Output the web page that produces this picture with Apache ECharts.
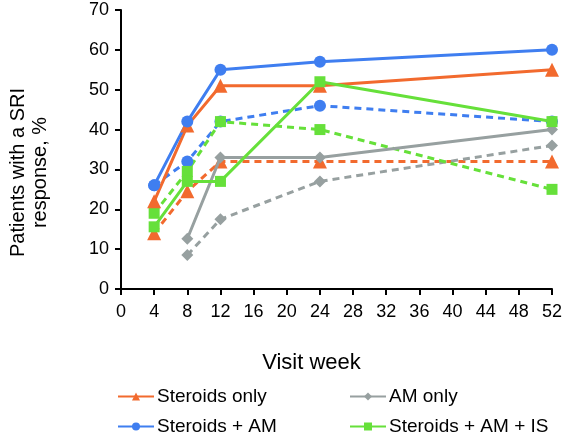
<!DOCTYPE html>
<html>
<head>
<meta charset="utf-8">
<script src="https://cdn.jsdelivr.net/npm/echarts@6/dist/echarts.min.js"></script>
<style>html,body{margin:0;padding:0;background:#fff}#c{width:566px;height:436px}</style>
</head>
<body>
<div id="c"></div>
<script>
var weeks = [4, 8, 12, 24, 52];
var weeksAM = [8, 12, 24, 52];
var steroidsOnly = [22, 41, 51, 51, 55];
var steroidsOnlyDash = [14, 24.5, 32, 32, 32];
var amOnly = [12.6, 33, 33, 40];
var amOnlyDash = [8.5, 17.5, 27, 36];
var steroidsAM = [26, 42, 55, 57, 60];
var steroidsAMDash = [26, 32, 42, 46, 42];
var steroidsAMIS = [15.6, 27, 27, 52, 42];
var steroidsAMISDash = [19, 29.5, 42, 40, 25];
var xTicks = [0, 4, 8, 12, 16, 20, 24, 28, 32, 36, 40, 44, 48, 52];

var ORANGE = '#f26a2e', GRAY = '#97a0a0', BLUE = '#3f7ef0', GREEN = '#66e03a';
var FONT = 'Liberation Sans, Arial, sans-serif';

function pairs(xs, ys) { return xs.map(function (x, i) { return [x, ys[i]]; }); }
function mk(name, xs, ys, color, symbol, size, dashed) {
  return {
    name: name, type: 'line', data: pairs(xs, ys),
    symbol: symbol, symbolSize: size,
    lineStyle: { color: color, width: 3, type: dashed ? [7, 5] : 'solid' },
    itemStyle: { color: color },
    z: dashed ? 2 : 3
  };
}
function lg(name, left, top) {
  return {
    data: [name], left: left, top: top, itemWidth: 36, itemHeight: 10, itemGap: 5,
    textStyle: { fontFamily: FONT, fontSize: 19, color: '#000', padding: [0, 0, 0, -2] }, padding: 0
  };
}

var chart = echarts.init(document.getElementById('c'));
chart.setOption({
  animation: false,
  backgroundColor: '#fff',
  grid: { left: 121, right: 14, top: 10, bottom: 147, outerBoundsMode: 'none', containLabel: false },
  legend: [
    lg('Steroids only', 117, 387),
    lg('AM only', 349, 387),
    lg('Steroids + AM', 117, 417),
    lg('Steroids + AM + IS', 349, 417)
  ],
  xAxis: {
    type: 'value', min: 0, max: 52, interval: 4,
    name: 'Visit week', nameLocation: 'middle', nameGap: 63,
    nameTextStyle: { fontFamily: FONT, fontSize: 22, color: '#000', padding: [0, 50, 0, 0] },
    axisLine: { lineStyle: { color: '#000', width: 2 } },
    axisTick: { show: true, inside: false, length: 6, lineStyle: { color: '#000', width: 2 } },
    axisLabel: {
      fontFamily: FONT, fontSize: 18, color: '#000', margin: 14,
      formatter: function (v) { return xTicks.indexOf(v) >= 0 ? String(v) : ''; }
    },
    splitLine: { show: false }
  },
  yAxis: {
    type: 'value', min: 0, max: 70, interval: 10,
    name: 'Patients with a SRI\nresponse, %', nameLocation: 'middle', nameGap: 70,
    nameRotate: 90,
    nameTextStyle: { fontFamily: FONT, fontSize: 20, color: '#000', lineHeight: 22, padding: [0, 46, 0, 0] },
    axisLine: { show: true, lineStyle: { color: '#000', width: 2 } },
    axisTick: { show: true, inside: false, length: 6, lineStyle: { color: '#000', width: 2 } },
    axisLabel: { fontFamily: FONT, fontSize: 18, color: '#000', margin: 12 },
    splitLine: { show: false }
  },
  series: [
    mk('Steroids only dashed', weeks, steroidsOnlyDash, ORANGE, 'triangle', 14, true),
    mk('AM only dashed', weeksAM, amOnlyDash, GRAY, 'diamond', 12, true),
    mk('Steroids + AM dashed', weeks, steroidsAMDash, BLUE, 'circle', 12, true),
    mk('Steroids + AM + IS dashed', weeks, steroidsAMISDash, GREEN, 'rect', 11, true),
    mk('Steroids only', weeks, steroidsOnly, ORANGE, 'triangle', 14, false),
    mk('AM only', weeksAM, amOnly, GRAY, 'diamond', 12, false),
    mk('Steroids + AM', weeks, steroidsAM, BLUE, 'circle', 12, false),
    mk('Steroids + AM + IS', weeks, steroidsAMIS, GREEN, 'rect', 11, false)
  ]
});
</script>
</body>
</html>
